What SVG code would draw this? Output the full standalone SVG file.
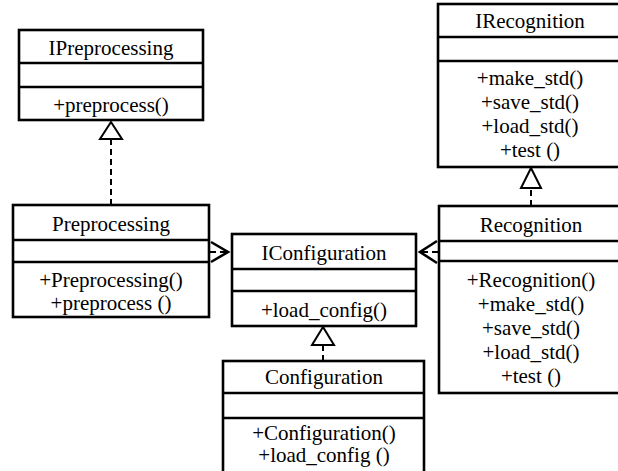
<svg xmlns="http://www.w3.org/2000/svg" width="618" height="471" viewBox="0 0 618 471">
<style>
.box{fill:#fff;stroke:#000;stroke-width:2.6}
.div{stroke:#000;stroke-width:2.6}
text{font-family:"Liberation Serif","Times New Roman",serif;font-size:21px;fill:#000;text-anchor:middle}
.dash{stroke:#000;stroke-width:2;stroke-dasharray:6,4;fill:none}
.tri{fill:#fff;stroke:#000;stroke-width:2}
.open{fill:none;stroke:#000;stroke-width:2.6}
</style>
<rect width="618" height="471" fill="#fff"/>
<g id="connectors">
<line class="dash" x1="111" y1="205" x2="111" y2="139"/>
<polygon class="tri" points="111,122 100,139 122,139"/>
<line class="dash" x1="531" y1="206" x2="531" y2="188"/>
<polygon class="tri" points="531,168 521,188 541,188"/>
<line class="dash" x1="323" y1="361" x2="323" y2="345"/>
<polygon class="tri" points="323,327 312,345 334,345"/>
<line class="dash" x1="210" y1="252" x2="227" y2="252"/>
<polyline class="open" points="211,242 228,252 211,262"/>
<line class="dash" x1="438" y1="252" x2="421" y2="252"/>
<polyline class="open" points="437,241 420,252 437,263"/>
</g>
<g id="IPreprocessing">
<rect class="box" x="19" y="30" width="184" height="90"/>
<line class="div" x1="19" y1="63" x2="203" y2="63"/>
<line class="div" x1="19" y1="87" x2="203" y2="87"/>
<text x="111" y="55">IPreprocessing</text>
<text x="111" y="112">+preprocess()</text>
</g>
<g id="Preprocessing">
<rect class="box" x="13" y="205" width="196" height="112"/>
<line class="div" x1="13" y1="240" x2="209" y2="240"/>
<line class="div" x1="13" y1="262" x2="209" y2="262"/>
<text x="111" y="231">Preprocessing</text>
<text x="111" y="287">+Preprocessing()</text>
<text x="111" y="310">+preprocess ()</text>
</g>
<g id="IConfiguration">
<rect class="box" x="232" y="234" width="184" height="92"/>
<line class="div" x1="232" y1="269" x2="416" y2="269"/>
<line class="div" x1="232" y1="291" x2="416" y2="291"/>
<text x="324" y="260">IConfiguration</text>
<text x="324" y="317">+load_config()</text>
</g>
<g id="Configuration">
<rect class="box" x="223" y="361" width="201" height="115"/>
<line class="div" x1="223" y1="393" x2="424" y2="393"/>
<line class="div" x1="223" y1="418" x2="424" y2="418"/>
<text x="324" y="384">Configuration</text>
<text x="324" y="440">+Configuration()</text>
<text x="324" y="462">+load_config ()</text>
</g>
<g id="IRecognition">
<rect class="box" x="438" y="4" width="185" height="163"/>
<line class="div" x1="438" y1="37" x2="623" y2="37"/>
<line class="div" x1="438" y1="61" x2="623" y2="61"/>
<text x="530" y="28">IRecognition</text>
<text x="530" y="85">+make_std()</text>
<text x="530" y="109">+save_std()</text>
<text x="530" y="133">+load_std()</text>
<text x="530" y="157">+test ()</text>
</g>
<g id="Recognition">
<rect class="box" x="439" y="206" width="185" height="187"/>
<line class="div" x1="439" y1="241" x2="624" y2="241"/>
<line class="div" x1="439" y1="261" x2="624" y2="261"/>
<text x="531" y="232">Recognition</text>
<text x="531" y="287">+Recognition()</text>
<text x="531" y="311">+make_std()</text>
<text x="531" y="335">+save_std()</text>
<text x="531" y="359">+load_std()</text>
<text x="531" y="383">+test ()</text>
</g>
</svg>
